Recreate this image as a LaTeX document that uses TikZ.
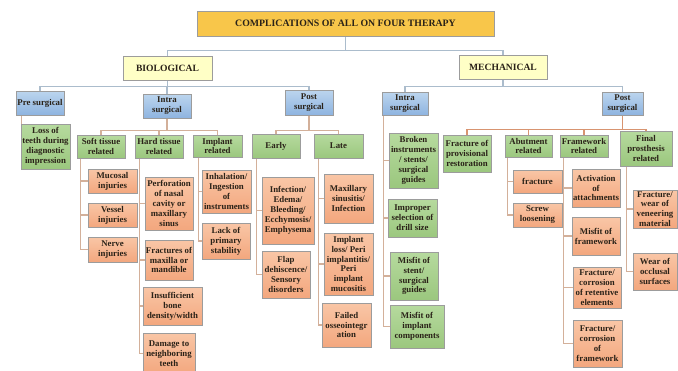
\documentclass[tikz,border=0pt]{standalone}
\usepackage{fontspec}
\setmainfont{Liberation Serif}
\usetikzlibrary{calc}
\pgfdeclarelayer{background}
\pgfsetlayers{background,main}
\definecolor{titlefill}{HTML}{F8C64A}
\definecolor{catfill}{HTML}{FFFFC6}
\definecolor{bluetop}{HTML}{BCD5EE}
\definecolor{bluebot}{HTML}{8EB4E0}
\definecolor{greentop}{HTML}{B6DA9E}
\definecolor{greenbot}{HTML}{9BC77E}
\definecolor{salmtop}{HTML}{F9C6A6}
\definecolor{salmbot}{HTML}{F3A77E}
\definecolor{boxline}{HTML}{9C9C9C}
\definecolor{upline}{HTML}{ABBCCC}
\definecolor{lowline}{HTML}{D3B09A}
\definecolor{orline}{HTML}{D89470}
\definecolor{txt}{HTML}{2A2218}
\tikzset{
  base/.style={draw=boxline, line width=0.9pt, align=center, inner sep=0.5pt,
    text=txt, font=\bfseries\fontsize{8.8}{9.9}\selectfont},
  titlebox/.style={base, fill=titlefill, font=\bfseries\fontsize{9.8}{11}\selectfont},
  catbox/.style={base, fill=catfill, font=\bfseries\fontsize{9.6}{11}\selectfont},
  phasebox/.style={base, top color=bluetop, bottom color=bluebot},
  groupbox/.style={base, top color=greentop, bottom color=greenbot},
  leafbox/.style={base, top color=salmtop, bottom color=salmbot},
  upconn/.style={draw=upline, line width=1.4pt},
  lowconn/.style={draw=lowline, line width=1.4pt},
  orconn/.style={draw=orline, line width=1.4pt}
}
\newcommand{\bx}[7]{\node[#6, minimum width={(#4-#2)*1pt}, minimum height={(#5-#3)*1pt}] (#1) at ({(#2+#4)/2},{(#3+#5)/2}) {#7};}
\begin{document}
\begin{tikzpicture}[x=1pt,y=-1pt]
\useasboundingbox (0,0) rectangle (678,370);
% ---------- boxes ----------
\bx{title}{197}{11}{494}{36}{titlebox}{COMPLICATIONS OF ALL ON FOUR THERAPY}
\bx{bio}{123}{56}{212}{80}{catbox}{BIOLOGICAL}
\bx{mech}{459}{55}{547}{79}{catbox}{MECHANICAL}
\bx{bpre}{16}{91}{64}{115}{phasebox}{Pre surgical}
\bx{bintra}{143}{94}{191}{118}{phasebox}{Intra\\surgical}
\bx{bpost}{285}{90}{333}{115}{phasebox}{Post\\surgical}
\bx{mintra}{382}{92}{428}{115}{phasebox}{Intra\\surgical}
\bx{mpost}{602}{92}{643}{115}{phasebox}{Post\\surgical}
% biological groups
\bx{loss}{21}{124}{70}{169}{groupbox}{Loss of\\teeth during\\diagnostic\\impression}
\bx{soft}{77}{135}{125}{158}{groupbox}{Soft tissue\\related}
\bx{hard}{135}{135}{183}{158}{groupbox}{Hard tissue\\related}
\bx{impl}{193}{135}{242}{157}{groupbox}{Implant\\related}
\bx{early}{252}{134}{300}{158}{groupbox}{Early}
\bx{late}{314}{134}{363}{158}{groupbox}{Late}
% biological leaves
\bx{muc}{88}{169}{137}{193}{leafbox}{Mucosal\\injuries}
\bx{ves}{88}{203}{137}{227}{leafbox}{Vessel\\injuries}
\bx{nerve}{88}{237}{137}{262}{leafbox}{Nerve\\injuries}
\bx{perf}{145}{177}{193}{230}{leafbox}{Perforation\\of nasal\\cavity or\\maxillary\\sinus}
\bx{fract}{145}{240}{193}{280}{leafbox}{Fractures of\\maxilla or\\mandible}
\bx{insuf}{143}{287}{202}{325}{leafbox}{Insufficient\\bone\\density/width}
\bx{damage}{143}{333}{195}{374}{leafbox}{Damage to\\neighboring\\teeth}
\bx{inhal}{202}{170}{251}{213}{leafbox}{Inhalation/\\Ingestion\\of\\instruments}
\bx{lack}{202}{223}{250}{259}{leafbox}{Lack of\\primary\\stability}
\bx{infect}{262}{177}{314}{244}{leafbox}{Infection/\\Edema/\\Bleeding/\\Ecchymosis/\\Emphysema}
\bx{flap}{262}{251}{310}{298}{leafbox}{Flap\\dehiscence/\\Sensory\\disorders}
\bx{maxs}{324}{174}{373}{223}{leafbox}{Maxillary\\sinusitis/\\Infection}
\bx{iloss}{324}{233}{373}{295}{leafbox}{Implant\\loss/ Peri\\implantitis/\\Peri\\implant\\mucositis}
\bx{failed}{322}{303}{371}{347}{leafbox}{Failed\\osseointegr\\ation}
% mechanical intra
\bx{broken}{389}{133}{438}{188}{groupbox}{Broken\\instruments\\/ stents/\\surgical\\guides}
\bx{improper}{388}{199}{437}{237}{groupbox}{Improper\\selection of\\drill size}
\bx{misstent}{390}{252}{438}{300}{groupbox}{Misfit of\\stent/\\surgical\\guides}
\bx{misimpl}{390}{305}{444}{348}{groupbox}{Misfit of\\implant\\components}
% mechanical post
\bx{prov}{443}{135}{491}{172}{groupbox}{Fracture of\\provisional\\restoration}
\bx{abut}{505}{135}{552}{157}{groupbox}{Abutment\\related}
\bx{frame}{560}{135}{608}{157}{groupbox}{Framework\\related}
\bx{final}{620}{131}{672}{166}{groupbox}{Final\\prosthesis\\related}
\bx{afrac}{513}{170}{562}{193}{leafbox}{fracture}
\bx{screw}{513}{203}{562}{227}{leafbox}{Screw\\loosening}
\bx{activ}{572}{169}{620}{207}{leafbox}{Activation\\of\\attachments}
\bx{misfr}{572}{217}{620}{255}{leafbox}{Misfit of\\framework}
\bx{fcret}{573}{267}{621}{308}{leafbox}{Fracture/\\corrosion\\of retentive\\elements}
\bx{fcfr}{573}{320}{622}{367}{leafbox}{Fracture/\\corrosion\\of\\framework}
\bx{veneer}{633}{190}{677}{228}{leafbox}{Fracture/\\wear of\\veneering\\material}
\bx{occl}{633}{253}{677}{290}{leafbox}{Wear of\\occlusal\\surfaces}
% ---------- connectors (behind boxes) ----------
\begin{pgfonlayer}{background}
\path[upconn] (title.south) -- ++(0,14) -| (bio.north);
\path[upconn] (title.south) -- ++(0,14) -| (mech.north);
\path[upconn] (bio.south) -- ++(0,6) -| (bpre.north);
\path[upconn] (bio.south) -- ++(0,6) -| (bintra.north);
\path[upconn] (bio.south) -- ++(0,6) -| (bpost.north);
\path[upconn] (mech.south) -- ++(0,7) -| (mintra.north);
\path[upconn] (mech.south) -- ++(0,7) -| (mpost.north);
\path[lowconn] ([xshift=6pt]bpre.south west) -- ([xshift=1pt]loss.north west);
\path[lowconn] (bintra.south) -- ++(0,12) -| (soft.north);
\path[lowconn] (bintra.south) -- ++(0,12) -| (hard.north);
\path[lowconn] (bintra.south) -- ++(0,12) -| (impl.north);
\path[lowconn] (bpost.south) -- ++(0,15) -| (early.north);
\path[lowconn] (bpost.south) -- ++(0,15) -| (late.north);
\path[orconn] (mpost.south) -- ++(0,14) -| (prov.north);
\path[orconn] (mpost.south) -- ++(0,14) -| (abut.north);
\path[orconn] (mpost.south) -- ++(0,14) -| (frame.north);
\path[orconn] (mpost.south) -- ++(0,14) -| (final.north);
\foreach \p/\c/\s in {soft/muc/4, soft/ves/4, soft/nerve/4,
  hard/perf/5, hard/fract/5, hard/insuf/5, hard/damage/5,
  impl/inhal/6, impl/lack/6, early/infect/5, early/flap/5,
  late/maxs/5, late/iloss/5, late/failed/5,
  mintra/broken/2, mintra/improper/2, mintra/misstent/2, mintra/misimpl/2,
  abut/afrac/3, abut/screw/3, frame/activ/4, frame/misfr/4, frame/fcret/4, frame/fcfr/4,
  final/veneer/7, final/occl/7}
  \path[lowconn] ([xshift=\s pt]\p.south west) |- (\c.west);
\end{pgfonlayer}
\end{tikzpicture}
\end{document}
